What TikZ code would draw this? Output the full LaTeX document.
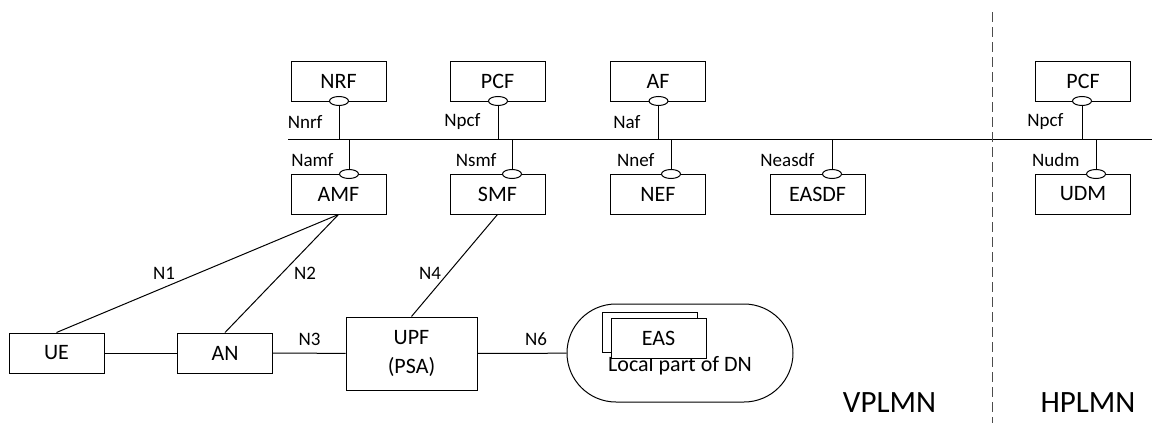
\documentclass[tikz,border=0pt]{standalone}
\usepackage{fontspec}
\setmainfont{Carlito}
\usetikzlibrary{shapes.geometric}
\begin{document}
\begin{tikzpicture}[x=1pt,y=-1pt,line width=1pt,
    nf/.style={draw,fill=white,minimum width=95pt,minimum height=40pt,inner sep=0pt,font=\fontsize{22}{29}\selectfont},
    port/.style={draw,ellipse,fill=white,minimum width=19pt,minimum height=9pt,inner sep=0pt},
    lbl/.style={inner sep=0pt,font=\fontsize{19}{22}\selectfont},
    plmn/.style={inner sep=0pt,font=\fontsize{31}{36}\selectfont}]
  \useasboundingbox (0,0) rectangle (1152,423);
  % network functions
  \draw
    (338.5,81) node[nf] (nrf){NRF}
    (497.5,81) node[nf] (pcf){PCF}
    (658,81) node[nf] (af){AF}
    (1083,81) node[nf] (hpcf){PCF}
    (338.5,194) node[nf] (amf){AMF}
    (497.5,194) node[nf] (smf){SMF}
    (658,194) node[nf] (nef){NEF}
    (817.5,194) node[nf] (easdf){EASDF}
    (1083,194) node[nf] (udm){UDM}
    (56.5,353) node[nf] (ue){UE}
    (225,353) node[nf] (an){AN}
    (411.5,353.5) node[nf,minimum width=131pt,minimum height=73pt,align=center] (upf){UPF\\(PSA)};
  % service interfaces
  \draw
    (339,101) node[port] (pnrf){}
    (498,101) node[port] (ppcf){}
    (658.5,101) node[port] (paf){}
    (1082,101) node[port] (phpcf){}
    (349,174) node[port] (pamf){}
    (512,174) node[port] (psmf){}
    (671,174) node[port] (pnef){}
    (832,174) node[port] (peasdf){}
    (1096,174) node[port] (pudm){};
  \coordinate (busl) at (288,139);
  \coordinate (busr) at (1152,139);
  \draw (busl) -- (busr);
  \foreach \p in {pnrf,ppcf,paf,phpcf,pamf,psmf,pnef,peasdf,pudm}
    \draw (\p) -- (\p |- busl);
  \draw
    (323,122) node[lbl,anchor=east] (lnrf){Nnrf}
    (481,122) node[lbl,anchor=east] (lpcf){Npcf}
    (641,122) node[lbl,anchor=east] (laf){Naf}
    (1064,122) node[lbl,anchor=east] (lhpcf){Npcf}
    (334,160) node[lbl,anchor=east] (lamf){Namf}
    (497,160) node[lbl,anchor=east] (lsmf){Nsmf}
    (655,160) node[lbl,anchor=east] (lnef){Nnef}
    (815,160) node[lbl,anchor=east] (leasdf){Neasdf}
    (1080,160) node[lbl,anchor=east] (ludm){Nudm};
  % data network
  \draw (680,353) node[draw,rounded corners=49pt,minimum width=226pt,minimum height=98pt] (dn){};
  \draw (680,366) node[inner sep=0pt,font=\fontsize{22}{26}\selectfont] (dntxt){Local part of DN};
  \draw (649.5,332) node[nf] (easb){};
  \draw (658.5,338) node[nf] (eas){EAS};
  % reference points
  \begin{scope}[-]
    \draw (ue) to (an);
    \draw (an) to (upf);
    \draw (upf) to (dn);
    \draw (ue.north) to (amf.south);
    \draw (an.north) to (amf.south);
    \draw (upf.north) to (smf.south);
  \end{scope}
  \draw
    (164,273) node[lbl] (ln1){N1}
    (305,273) node[lbl] (ln2){N2}
    (430,273) node[lbl] (ln4){N4}
    (309.5,339) node[lbl] (ln3){N3}
    (536,339) node[lbl] (ln6){N6};
  % PLMN border
  \coordinate (divt) at (992,12);
  \coordinate (divb) at (992,423);
  \draw[black!70,dash pattern=on 10pt off 5pt] (divt) -- (divb);
  \draw
    (889.5,403) node[plmn] (vplmn){VPLMN}
    (1088,403) node[plmn] (hplmn){HPLMN};
\end{tikzpicture}
\end{document}
